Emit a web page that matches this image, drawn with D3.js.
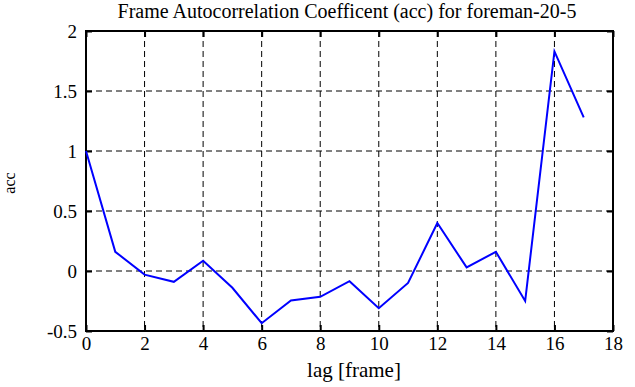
<!DOCTYPE html>
<html>
<head>
<meta charset="utf-8">
<script src="https://cdn.jsdelivr.net/npm/d3@7"></script>
<style>
  body { margin: 0; background: #fff; }
  text { font-family: "Liberation Serif", "DejaVu Serif", serif; fill: #000; }
</style>
</head>
<body>
<svg id="chart" width="635" height="387"></svg>
<script>
// data
const lags = [0, 1, 2, 3, 4, 5, 6, 7, 8, 9, 10, 11, 12, 13, 14, 15, 16, 17];
const acc = [1.0, 0.16, -0.03, -0.09, 0.085, -0.14, -0.435, -0.245, -0.215, -0.085, -0.31, -0.10, 0.40, 0.03, 0.16, -0.25, 1.83, 1.28];
const xTicks = [0, 2, 4, 6, 8, 10, 12, 14, 16, 18];
const yTicks = [-0.5, 0, 0.5, 1, 1.5, 2];

const margin = {top: 31, right: 22, bottom: 56, left: 86},
  width = 635 - margin.left - margin.right,
  height = 387 - margin.top - margin.bottom;

const svg = d3.select("#chart"),
  g = svg.append("g").attr("transform", "translate(" + margin.left + "," + margin.top + ")");

const x = d3.scaleLinear().domain([0, 18]).range([0, width]);
const y = d3.scaleLinear().domain([-0.5, 2]).range([height, 0]);

// dashed grid
g.append("g")
  .selectAll("line")
  .data(xTicks.slice(1, -1))
  .enter().append("line")
    .attr("x1", d => x(d)).attr("x2", d => x(d))
    .attr("y1", 0).attr("y2", height)
    .attr("stroke", "#000").attr("stroke-dasharray", "6,4");
g.append("g")
  .selectAll("line")
  .data(yTicks.slice(1, -1))
  .enter().append("line")
    .attr("y1", d => y(d)).attr("y2", d => y(d))
    .attr("x1", 0).attr("x2", width)
    .attr("stroke", "#000").attr("stroke-dasharray", "6,4");

// axes, ticks pointing inward
const xAxis = g.append("g")
  .attr("transform", "translate(0," + height + ")")
  .call(d3.axisBottom(x).tickValues(xTicks).tickSize(-6).tickPadding(6));
const xTop = g.append("g")
  .call(d3.axisTop(x).tickValues(xTicks).tickSize(-6).tickFormat(""));
const yAxis = g.append("g")
  .call(d3.axisLeft(y).tickValues(yTicks).tickSize(-6).tickPadding(9).tickFormat(d => String(d)));
const yRight = g.append("g")
  .attr("transform", "translate(" + width + ",0)")
  .call(d3.axisRight(y).tickValues(yTicks).tickSize(-6).tickFormat(""));

[xAxis, xTop, yAxis, yRight].forEach(a => {
  a.attr("font-family", null).attr("font-size", null);
  a.select(".domain").remove();
  a.selectAll(".tick line").attr("stroke", "#000").attr("stroke-width", 2);
  a.selectAll("text")
    .style("font-family", "'Liberation Serif', serif")
    .attr("font-size", 19);
});

// frame
g.append("rect")
  .attr("width", width).attr("height", height)
  .attr("fill", "none").attr("stroke", "#000").attr("stroke-width", 2);

const line = d3.line()
  .x((d, i) => x(lags[i]))
  .y(d => y(d));

g.append("path")
  .datum(acc)
  .attr("fill", "none")
  .attr("stroke", "#0000ff")
  .attr("stroke-width", 2)
  .attr("d", line);

// labels
svg.append("text")
  .attr("x", 347).attr("y", 18)
  .attr("text-anchor", "middle").attr("font-size", 20)
  .text("Frame Autocorrelation Coefficent (acc) for foreman-20-5");

svg.append("text")
  .attr("x", 354).attr("y", 377)
  .attr("text-anchor", "middle").attr("font-size", 21)
  .text("lag [frame]");

svg.append("text")
  .attr("transform", "translate(15,183) rotate(-90)")
  .attr("text-anchor", "middle").attr("font-size", 16)
  .text("acc");
</script>
</body>
</html>
